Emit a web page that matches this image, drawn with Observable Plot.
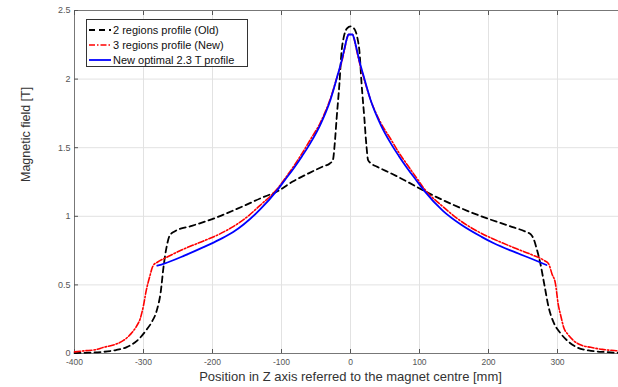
<!DOCTYPE html>
<html>
<head>
<meta charset="utf-8">
<script src="https://cdn.jsdelivr.net/npm/d3@7"></script>
<script src="https://cdn.jsdelivr.net/npm/@observablehq/plot@0.6"></script>
<style>
  html, body { margin: 0; padding: 0; background: #fff; overflow: hidden; }
  #wrap { position: relative; width: 618px; height: 387px; overflow: hidden; }
  #wrap > svg { max-width: none !important; width: 630px; height: 387px; }
  .legend { position: absolute; left: 86px; top: 19px; width: 160px; height: 46px;
    border: 1px solid #333; background: #fff; font: 11px "Liberation Sans", Arial, sans-serif; color: #111; }
  .row { position: absolute; left: 0; height: 14px; line-height: 14px; white-space: nowrap; }
  .row svg { position: absolute; left: 2px; top: 0; }
  .row span { position: absolute; left: 26px; top: 0; }
</style>
</head>
<body>
<div id="wrap"></div>
<script>
// Series names
const seriesNames = ["2 regions profile (Old)", "3 regions profile (New)", "New optimal 2.3 T profile"];

// 2 regions profile (Old) — position [mm], field [T]
const oldZ = [-400,-380,-358,-340,-325,-310,-296,-288,-281,-275,-271,-266,-262,-255,-230,-195,-155,-131,-105,-83,-60,-39,-30,-25.5,-23,-20,-16,-13,-10,-8,-5,0,
              5,8,10,13,16,20,23,25.5,30,39,60,83,105,131,155,195,230,255,261,265,270,275,281,287,295,304,315,328,345,371,400];
const oldB = [0.003,0.006,0.012,0.025,0.045,0.09,0.17,0.23,0.31,0.45,0.63,0.79,0.86,0.89,0.93,0.99,1.075,1.13,1.185,1.255,1.315,1.365,1.385,1.41,1.52,1.72,1.97,2.2,2.3,2.34,2.37,2.385,
              2.37,2.34,2.3,2.2,1.97,1.72,1.52,1.41,1.385,1.36,1.31,1.25,1.19,1.125,1.07,0.99,0.93,0.885,0.87,0.84,0.76,0.66,0.5,0.34,0.22,0.15,0.09,0.045,0.022,0.01,0.003];

// 3 regions profile (New)
const newZ = [-400,-385,-370,-358,-345,-329,-318,-310,-305,-300,-296,-291,-287,-285.5,-280,-265,-240,-213,-190,-170,-155,-131,-107,-95,-83,-70,-58,-44,-29,-18,-13,-8,-5,-3,0,
              3,5,8,13,18,29,44,58,70,83,95,107,134,160,190,207,240,265,280,287,292,297,301,305,309,315,323,335,348,365,385,400];
const newB = [0.012,0.02,0.027,0.045,0.06,0.095,0.145,0.2,0.25,0.35,0.46,0.56,0.63,0.645,0.665,0.705,0.765,0.82,0.87,0.925,0.975,1.08,1.195,1.275,1.36,1.46,1.56,1.68,1.86,2.04,2.12,2.23,2.3,2.325,2.325,
              2.325,2.3,2.23,2.12,2.03,1.85,1.68,1.565,1.465,1.37,1.285,1.2,1.07,0.965,0.875,0.835,0.765,0.715,0.68,0.655,0.58,0.51,0.36,0.27,0.19,0.14,0.095,0.06,0.045,0.03,0.02,0.012];

// New optimal 2.3 T profile
const optZ = [-280,-270,-240,-213,-190,-170,-155,-131,-107,-95,-83,-70,-58,-44,-29,-18,-13,-8,-5,-3,0,
              3,5,8,13,18,29,44,58,70,83,95,107,134,160,190,207,240,265,284];
const optB = [0.64,0.655,0.715,0.775,0.83,0.885,0.94,1.05,1.185,1.265,1.345,1.44,1.535,1.665,1.85,2.04,2.13,2.24,2.3,2.325,2.325,
              2.325,2.3,2.24,2.13,2.04,1.85,1.665,1.535,1.44,1.345,1.265,1.185,1.04,0.94,0.85,0.805,0.735,0.685,0.645];

// Axis ticks
const xTicks = [-400,-300,-200,-100,0,100,200,300,400];
const yTicks = [0,0.5,1,1.5,2,2.5];
const xLabel = "Position in Z axis referred to the magnet centre [mm]";
const yLabel = "Magnetic field [T]";

const toRows = (zs, bs) => zs.map((z, i) => ({z, b: bs[i]}));
const oldData = toRows(oldZ, oldB);
const newData = toRows(newZ, newB);
const optData = toRows(optZ, optB);

const font = "Liberation Sans, Arial, sans-serif";

const chart = Plot.plot({
  width: 630,
  height: 387,
  marginLeft: 74,
  marginRight: 4,
  marginTop: 10,
  marginBottom: 34,
  style: {fontFamily: font, fontSize: "9px", color: "#555", background: "#fff", maxWidth: "none"},
  x: {domain: [-400, 400]},
  y: {domain: [0, 2.5]},
  marks: [
    Plot.gridX(xTicks, {stroke: "#e2e2e2", strokeOpacity: 1}),
    Plot.gridY(yTicks, {stroke: "#e2e2e2", strokeOpacity: 1}),
    Plot.frame({stroke: "#777"}),
    Plot.axisX({ticks: xTicks, tickSize: -4, tickPadding: 9, tickFormat: d => String(d), label: null, fontSize: 8.5}),
    Plot.axisX({anchor: "top", ticks: xTicks, tickSize: -4, tickFormat: () => "", label: null}),
    Plot.axisY({ticks: yTicks, tickSize: -4, tickPadding: 8, tickFormat: d => String(d), label: null, fontSize: 9}),
    Plot.axisY({anchor: "right", ticks: yTicks, tickSize: -4, tickFormat: () => "", label: null}),
    Plot.line(oldData, {x: "z", y: "b", stroke: "#000", strokeWidth: 1.8, strokeDasharray: "6,4", curve: "monotone-x"}),
    Plot.line(newData, {x: "z", y: "b", stroke: "#ff0000", strokeWidth: 1.6, strokeDasharray: "6,2,1.5,2", curve: "monotone-x"}),
    Plot.line(optData, {x: "z", y: "b", stroke: "#0000ff", strokeWidth: 1.8, curve: "monotone-x"}),
    Plot.text([xLabel], {frameAnchor: "bottom", dy: 27, fontSize: 13, fill: "#333", fontFamily: font}),
    Plot.text([yLabel], {frameAnchor: "left", dx: -49, rotate: -90, fontSize: 12.5, fill: "#333", fontFamily: font})
  ]
});

const wrap = document.getElementById("wrap");
wrap.appendChild(chart);

// Legend
const legendStyles = [
  {stroke: "#000", dash: "6,4", width: 1.8},
  {stroke: "#ff0000", dash: "6,2,1.5,2", width: 1.6},
  {stroke: "#0000ff", dash: null, width: 1.8}
];
const legend = document.createElement("div");
legend.className = "legend";
const rowTops = [3, 17.5, 33];
seriesNames.forEach((name, i) => {
  const row = document.createElement("div");
  row.className = "row";
  row.style.top = rowTops[i] + "px";
  const s = legendStyles[i];
  row.innerHTML = `<svg width="22" height="14"><line x1="0" x2="22" y1="7" y2="7" stroke="${s.stroke}" stroke-width="${s.width}" ${s.dash ? `stroke-dasharray="${s.dash}"` : ""}/></svg><span>${name}</span>`;
  legend.appendChild(row);
});
wrap.appendChild(legend);
</script>
</body>
</html>
